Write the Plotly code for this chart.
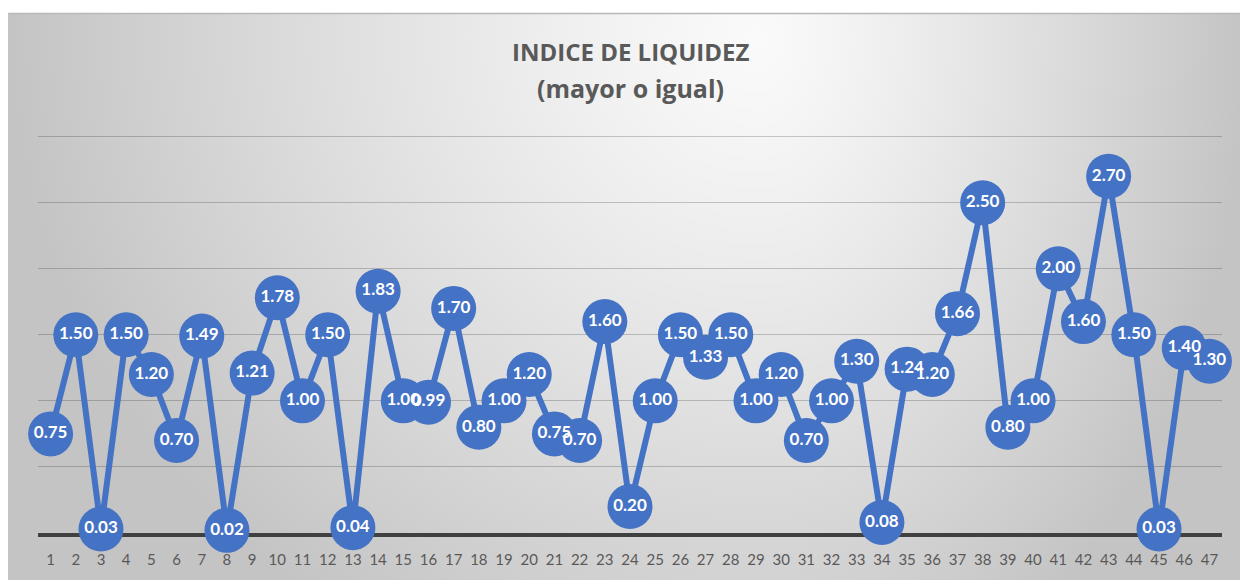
import base64, struct, zlib
import plotly.graph_objects as go

# ---- data ----
categories = list(range(1, 48))
values = [0.75, 1.50, 0.03, 1.50, 1.20, 0.70, 1.49, 0.02, 1.21, 1.78,
          1.00, 1.50, 0.04, 1.83, 1.00, 0.99, 1.70, 0.80, 1.00, 1.20,
          0.75, 0.70, 1.60, 0.20, 1.00, 1.50, 1.33, 1.50, 1.00, 1.20,
          0.70, 1.00, 1.30, 0.08, 1.24, 1.20, 1.66, 2.50, 0.80, 1.00,
          2.00, 1.60, 2.70, 1.50, 0.03, 1.40, 1.30]
title_lines = ["INDICE DE LIQUIDEZ", "(mayor o igual)"]

# page body has an 8px margin, so the figure is drawn 8px in from the top-left
OFF = 8
W, H = 1248 - OFF, 580 - OFF
YMAX = 3.05
# plot area (figure pixels): value 0 at 535, value 3.0 at 137 on the page
B = 535 - OFF
PX_PER_UNIT = (535 - 137) / 3.0
T = B - PX_PER_UNIT * YMAX
L, R = 38 - OFF, 1222 - OFF


def px_x(X):
    return (X - OFF - L) / (R - L)


def px_y(Y):
    return (B - (Y - OFF)) / (B - T)


# ---- gradient background image (pure python PNG) ----
def make_png(w, h, func):
    raw = bytearray()
    for j in range(h):
        raw.append(0)
        for i in range(w):
            raw.append(func(i, j))

    def chunk(tag, data):
        c = tag + data
        return struct.pack(">I", len(data)) + c + struct.pack(">I", zlib.crc32(c) & 0xffffffff)
    png = b"\x89PNG\r\n\x1a\n"
    png += chunk(b"IHDR", struct.pack(">IIBBBBB", w, h, 8, 0, 0, 0, 0))
    png += chunk(b"IDAT", zlib.compress(bytes(raw), 9))
    png += chunk(b"IEND", b"")
    return "data:image/png;base64," + base64.b64encode(png).decode()


# chart area in reference-page pixels
X0, Y0, X1, Y1 = 8, 13, 1256, 590
gw, gh = 312, 144
cx, cy = 760, 40


def shade(i, j):
    X = X0 + (i + 0.5) * (X1 - X0) / gw
    Y = Y0 + (j + 0.5) * (Y1 - Y0) / gh
    dx = (X - cx) / ((cx - X0) if X < cx else (1248 - cx))
    dy = (Y - cy) / 700.0
    t = min((dx * dx + dy * dy) ** 0.5, 1.0)
    return int(round(250 - 54 * t ** 1.2))


bg_src = make_png(gw, gh, shade)

fig = go.Figure()
fig.add_trace(go.Scatter(
    x=categories, y=values,
    mode="lines+markers+text",
    line=dict(color="#4472C4", width=6),
    marker=dict(color="#4472C4", size=45, line=dict(width=0)),
    text=[f"{v:.2f}" for v in values],
    textposition="middle center",
    textfont=dict(family="Lato", size=17, color="white", weight="bold"),
    cliponaxis=False,
    hoverinfo="skip",
))

fig.update_layout(
    width=W, height=H,
    margin=dict(l=L, r=W - R, t=T, b=H - B, pad=0),
    paper_bgcolor="white",
    plot_bgcolor="rgba(0,0,0,0)",
    showlegend=False,
    images=[dict(source=bg_src, xref="paper", yref="paper",
                 x=px_x(X0), y=px_y(Y0),
                 sizex=px_x(X1) - px_x(X0), sizey=px_y(Y0) - px_y(Y1),
                 xanchor="left", yanchor="top", sizing="stretch",
                 layer="below")],
    shapes=[
        dict(type="line", xref="paper", yref="paper",
             x0=px_x(X0), x1=px_x(X1), y0=px_y(Y0 + 0.5), y1=px_y(Y0 + 0.5),
             line=dict(color="#b8b8b8", width=1.5), layer="below"),
        dict(type="line", xref="paper", yref="paper",
             x0=px_x(X0 + 0.5), x1=px_x(X0 + 0.5), y0=px_y(Y0), y1=px_y(Y1),
             line=dict(color="#c4c4c4", width=1.5), layer="below"),
    ],
    annotations=[
        dict(text=f"<b>{title_lines[0]}</b>", xref="paper", yref="paper",
             x=0.5, y=px_y(52), xanchor="center", yanchor="middle",
             showarrow=False, font=dict(family="Open Sans", size=24, color="#595959")),
        dict(text=f"<b>{title_lines[1]}</b>", xref="paper", yref="paper",
             x=0.5, y=px_y(88), xanchor="center", yanchor="middle",
             showarrow=False, font=dict(family="Open Sans", size=25, color="#595959")),
    ],
    xaxis=dict(
        range=[0.5, 47.5], tickvals=categories, ticktext=[str(c) for c in categories],
        showgrid=False, zeroline=False,
        showline=True, linecolor="#404040", linewidth=3.5,
        ticks="", ticklabelstandoff=10,
        tickfont=dict(family="Lato", size=15, color="#595959"),
        layer="below traces", fixedrange=True,
    ),
    yaxis=dict(
        range=[0, YMAX], dtick=0.5, tick0=0,
        showgrid=True, gridcolor="rgba(0,0,0,0.2)", gridwidth=1,
        zeroline=False, showticklabels=False, ticks="",
        layer="below traces", fixedrange=True,
    ),
)

fig.write_html("out.html")
